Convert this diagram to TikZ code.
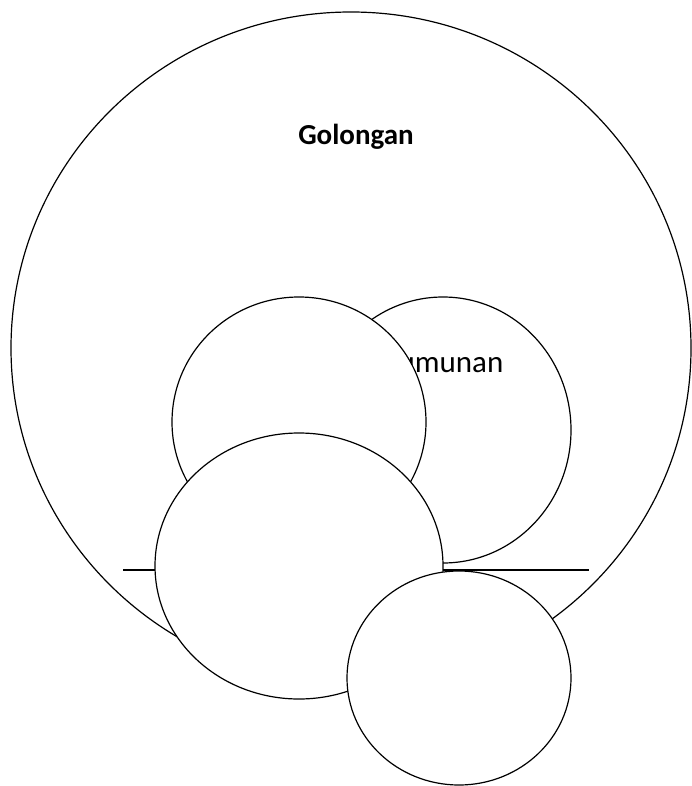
\documentclass[tikz,border=0pt]{standalone}
\usepackage{fontspec}
\setmainfont{Carlito}
\usetikzlibrary{shapes.geometric}
\begin{document}
\begin{tikzpicture}[x=1pt,y=-1pt,
  oval/.style={ellipse, draw=black, fill=white, line width=1.2pt, inner sep=0pt},
  lbl/.style={inner sep=0pt, anchor=base}]
\useasboundingbox (0,0) rectangle (691,786);
\node[oval, minimum width=680pt, minimum height=672pt] (golongan) at (351,348) {};
\coordinate (l1) at (123,570);
\coordinate (l2) at (589,570);
\draw[line width=1.6pt] (l1) -- (l2);
\node[oval, minimum width=256pt, minimum height=266pt] (kerumunan) at (443,430) {};
\node[lbl, font=\fontsize{31}{36}\selectfont] (tk) at (430,372) {Kerumunan};
\node[oval, minimum width=254pt, minimum height=250pt] (a) at (299,422) {};
\node[oval, minimum width=288pt, minimum height=266pt] (c) at (299,566) {};
\node[oval, minimum width=224pt, minimum height=214pt] (d) at (459,678) {};
\node[lbl, font=\fontsize{29}{34}\selectfont\bfseries] (tg) at (356,145) {Golongan};
\end{tikzpicture}
\end{document}
